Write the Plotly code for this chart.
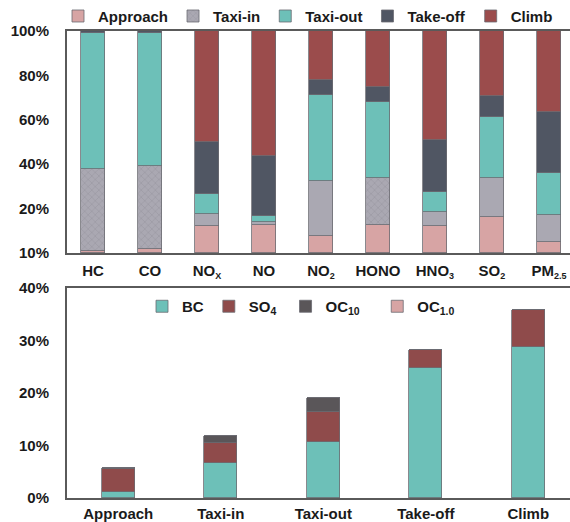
import plotly.graph_objects as go

SUB = '<sub><span style="font-size:9px">{}</span></sub>'

# ---- top chart data (share of each phase, %) ----
species = ["HC", "CO", "NO" + SUB.format("X"), "NO", "NO" + SUB.format("2"), "HONO",
           "HNO" + SUB.format("3"), "SO" + SUB.format("2"), "PM" + SUB.format("2.5")]
approach = [1.0, 2.0, 12.2, 12.6, 7.7, 12.6, 12.2, 16.4, 5.1]
taxi_in = [37.0, 37.0, 5.4, 1.5, 24.9, 21.0, 6.4, 17.2, 12.0]
taxi_out = [61.0, 60.0, 8.8, 2.6, 38.6, 34.6, 9.0, 27.5, 19.1]
take_off = [1.0, 1.0, 23.5, 27.0, 6.8, 6.4, 23.3, 9.6, 27.4]
climb = [0.0, 0.0, 50.1, 56.3, 22.0, 25.4, 49.1, 29.3, 36.4]
taxi_in_pattern = ["x", "x", "", "", "", "x", "", "", ""]
top_tickvals = [0, 20, 40, 60, 80, 100]
top_ticktext = ["10%", "20%", "40%", "60%", "80%", "100%"]

# ---- bottom chart data (% of total, by phase) ----
phases = ["Approach", "Taxi-in", "Taxi-out", "Take-off", "Climb"]
bc = [1.2, 6.6, 10.6, 24.8, 28.7]
so4 = [4.4, 3.8, 5.8, 3.3, 7.2]
oc10 = [0.2, 1.4, 2.6, 0.0, 0.0]
oc1 = [0.0, 0.0, 0.0, 0.0, 0.0]
bot_names = ["BC", "SO<sub>4</sub>&nbsp;", "OC<sub>10</sub>&nbsp;&nbsp;&nbsp;",
             "OC<sub>1.0</sub>"]
bot_tickvals = [0, 10, 20, 30, 40]
bot_ticktext = ["0%", "10%", "20%", "30%", "40%"]

C_PINK = "#d7a4a4"
C_GREY = "#aaa8b2"
C_TEAL = "#6dc0b8"
C_DARK = "#505663"
C_RED = "#9b4c4c"
C_RED2 = "#8f4b4b"
C_DARK2 = "#5a5659"

FONT = "Arial, Liberation Sans, sans-serif"
LEG_FONT = dict(family=FONT, size=15, color="#1a1a1a", weight="bold")

fig = go.Figure()

top = [("Approach", approach, C_PINK, None),
       ("Taxi-in", taxi_in, C_GREY, taxi_in_pattern),
       ("Taxi-out", taxi_out, C_TEAL, None),
       ("Take-off", take_off, C_DARK, None),
       ("Climb", climb, C_RED, None)]
for name, vals, col, pat in top:
    marker = dict(color=col, line=dict(color="#6b6b72", width=0.8))
    if pat is not None:
        marker["pattern"] = dict(shape=pat, size=5, solidity=0.25,
                                 fgcolor="#8e8c96", bgcolor=col)
    fig.add_trace(go.Bar(x=species, y=vals, name=name, marker=marker,
                         width=0.42, xaxis="x", yaxis="y", legend="legend"))

for name, vals, col in zip(bot_names, [bc, so4, oc10, oc1],
                           [C_TEAL, C_RED2, C_DARK2, C_PINK]):
    fig.add_trace(go.Bar(x=phases, y=vals, name=name,
                         marker=dict(color=col, line=dict(color="#6b6b72", width=0.8)),
                         width=0.32, xaxis="x2", yaxis="y2", legend="legend2"))

W, H = 570, 522
L = 67
PW = W - L
tick_font = dict(family=FONT, size=15, color="#1a1a1a", weight="bold")
axis_line = dict(showline=True, linecolor="#5a5a5a", linewidth=2)

fig.update_layout(
    width=W, height=H, barmode="stack",
    margin=dict(l=L, r=0, t=0, b=0, autoexpand=False),
    paper_bgcolor="white", plot_bgcolor="white",
    font=dict(family=FONT, color="#111"),
    xaxis=dict(domain=[0, 1], range=[-0.456, 8.37], tickfont=tick_font,
               showgrid=False, ticks="", mirror=True, anchor="y",
               ticklabelstandoff=3, **axis_line),
    yaxis=dict(domain=[(H - 253) / H, (H - 31) / H], range=[0, 100],
               tickvals=top_tickvals, ticktext=top_ticktext, tickfont=tick_font,
               showgrid=False, ticks="", zeroline=False, anchor="x",
               ticklabelstandoff=13, **axis_line),
    xaxis2=dict(domain=[0, 1], range=[-0.5, 4.407], tickfont=tick_font,
                showgrid=False, ticks="", mirror=True, anchor="y2",
                ticklabelstandoff=1, **axis_line),
    yaxis2=dict(domain=[(H - 498) / H, (H - 288) / H], range=[0, 40],
                tickvals=bot_tickvals, ticktext=bot_ticktext, tickfont=tick_font,
                showgrid=False, ticks="", zeroline=False, anchor="x2",
                ticklabelstandoff=13, **axis_line),
    legend=dict(orientation="h", x=(58 - L) / PW, y=1.0005,
                yanchor="top", xanchor="left", font=LEG_FONT, bgcolor="rgba(0,0,0,0)",
                itemwidth=30, traceorder="normal"),
    legend2=dict(orientation="h", x=(142 - L) / PW, y=(H - 290) / H,
                 yanchor="top", xanchor="left", font=LEG_FONT,
                 bgcolor="rgba(0,0,0,0)", itemwidth=30, traceorder="normal"),
    bargap=0, showlegend=True,
)
fig.update_xaxes(tickangle=0)

fig.write_html("out.html", config={"displayModeBar": False},
               post_script="document.body.style.margin='0';document.body.style.padding='0';")
